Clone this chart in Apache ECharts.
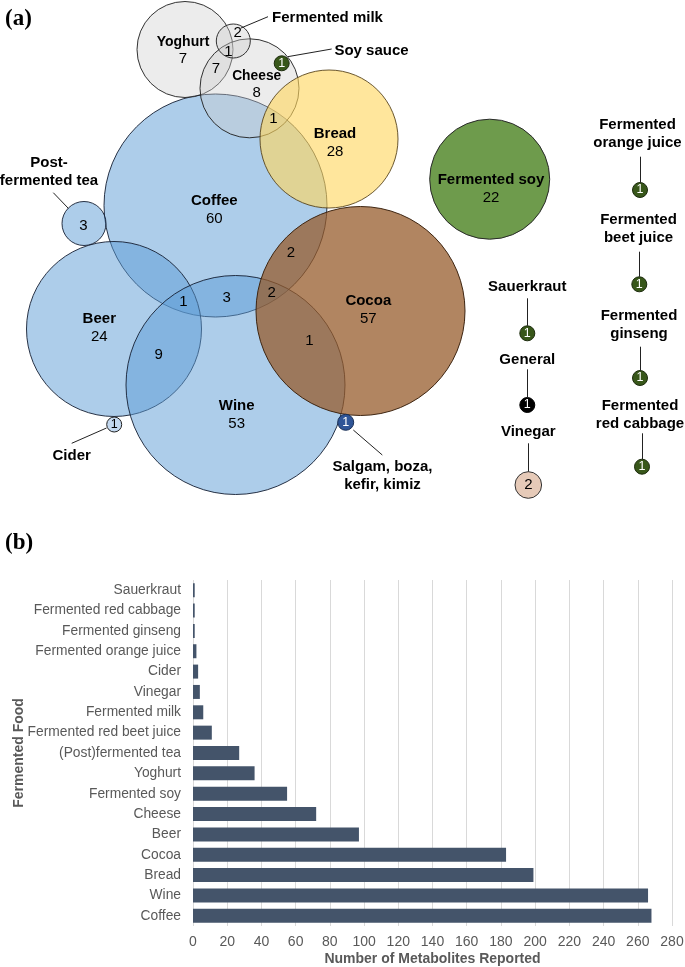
<!DOCTYPE html>
<html>
<head>
<meta charset="utf-8">
<script src="https://cdn.jsdelivr.net/npm/echarts@6/dist/echarts.min.js"></script>
<style>
html,body{margin:0;padding:0;background:#fff;}
#c{width:685px;height:967px;}
</style>
</head>
<body>
<div id="c"></div>
<script>
// ================= DATA =================
// Panel (b): metabolites reported per fermented food
const foods = ['Sauerkraut','Fermented red cabbage','Fermented ginseng','Fermented orange juice','Cider','Vinegar','Fermented milk','Fermented red beet juice','(Post)fermented tea','Yoghurt','Fermented soy','Cheese','Beer','Cocoa','Bread','Wine','Coffee'];
const metaboliteCounts = [1,1,1,2,3,4,6,11,27,36,55,72,97,183,199,266,268];
const xTickMax = 280;
const xTickStep = 20;

// Panel (a): Euler diagram sets and their unique counts
const vennSets = ['Coffee','Beer','Wine','Post-\nfermented tea','Cider','Yoghurt','Cheese','Fermented milk','Bread','Cocoa','Fermented soy','Soy sauce','Salgam, boza,\nkefir, kimiz','Sauerkraut','General','Vinegar','Fermented\norange juice','Fermented\nbeet juice','Fermented\nginseng','Fermented\nred cabbage'];
const vennOnly = [60,24,53,3,1,7,8,2,28,57,22,1,1,1,1,2,1,1,1,1];
const overlapSets = ['Yoghurt & Cheese','Yoghurt & Fermented milk & Cheese','Cheese & Coffee & Bread','Coffee & Cocoa','Coffee & Wine & Cocoa','Coffee & Wine','Coffee & Beer & Wine','Beer & Wine','Wine & Cocoa'];
const overlapCounts = [7,1,1,2,2,3,1,9,1];

// ================= LAYOUT / STYLE (not data) =================
// circle centre x, centre y, radius (diagram pixel units)
const circleLayout = [
  [215.5,205.5,111.5],[114,329,87.5],[235.5,385,109.5],[84,223.5,22],[114.2,424.5,7.5],
  [185,49.5,48],[249.5,88.3,49.5],[233.3,41,17],[329,139,69],[360.5,311,104.5],
  [489.7,179.2,60],[281.7,63.3,7.5],[345.7,422.3,8],[527.3,333.3,7.5],[527.3,405,7.5],
  [528.3,485,13.3],[640,190,7.5],[639.3,284.3,7.5],[640,378,7.5],[642,466.7,7.5]
];
const circleStyle = ['blue','blue','blue','blue','cider','gray','gray','gray','bread','cocoa','soy','dkgreen','salgam','dkgreen','black','vinegar','dkgreen','dkgreen','dkgreen','dkgreen'];
// label layout: inside -> [x,y,fontSize]; callout -> name pos, count pos, leader line
const labelLayout = [
  {inside:[214.3,210,15]},
  {inside:[99.3,328,15]},
  {inside:[236.7,415,15]},
  {name:[49,172], count:[83.3,225.7,15], line:[[53.3,192.7],[68.3,208.3]]},
  {name:[71.7,456], count:[114.2,424.5,12.5], line:[[71.7,443.3],[106.5,428]]},
  {inside:[183,50.3,14]},
  {inside:[256.7,84.5,13.8]},
  {name:[327.5,18.3], count:[237.7,32.7,15], line:[[241,28],[268,16.7]]},
  {inside:[335,142.5,15]},
  {inside:[368.3,310,15]},
  {inside:[491,189,15]},
  {name:[371.5,50.7], count:null, line:[[287.7,56.7],[331.7,49]]},
  {name:[382.5,476], count:null, line:[[353.3,430],[382.3,455]]},
  {name:[527.3,286.7], count:null, line:[[527.3,298.3],[527.3,325.8]]},
  {name:[527.3,360], count:null, line:[[527.3,369.3],[527.3,397.5]]},
  {name:[528.3,432.3], count:[528.3,485,15], line:[[528.3,443.3],[528.3,471.7]]},
  {name:[637.5,134], count:null, line:[[640,156.7],[640,182.5]]},
  {name:[638.5,229], count:null, line:[[639.3,251.7],[639.3,276.8]]},
  {name:[639,325], count:null, line:[[640,346.7],[640,370.5]]},
  {name:[640,414.5], count:null, line:[[642,433.3],[642,459.2]]}
];
const overlapLayout = [[216,69],[228.3,51.7],[273.3,119],[291,252.7],[271.7,292.7],[226.7,298.3],[183.3,301.7],[158.7,355],[309.3,341]];

const palette = {
  blue:   {fill:'rgba(91,155,213,0.5)',  stroke:'rgba(20,30,50,0.9)', text:'#000'},
  cider:  {fill:'#c3d8ef',               stroke:'#222',               text:'#000'},
  gray:   {fill:'rgba(205,205,205,0.38)',stroke:'rgba(30,30,30,0.9)', text:'#000'},
  bread:  {fill:'rgba(255,214,95,0.62)', stroke:'rgba(80,60,20,0.85)',text:'#000'},
  cocoa:  {fill:'rgba(150,90,42,0.74)',  stroke:'#3d2410',            text:'#000'},
  soy:    {fill:'#6e9b4c',               stroke:'#2a2a2a',            text:'#000'},
  dkgreen:{fill:'#38571a',               stroke:'#1c2b0d',            text:'#fff'},
  salgam: {fill:'#2f5597',               stroke:'#1a2f55',            text:'#fff'},
  black:  {fill:'#000000',               stroke:'#000',               text:'#fff'},
  vinegar:{fill:'#e6cab8',               stroke:'#333',               text:'#000'}
};
const FONT = 'Liberation Sans, Arial, sans-serif';
const INK = '#000';

// ================= BUILD =================
const circleData = vennSets.map((n, i) => {
  const c = circleLayout[i], p = palette[circleStyle[i]];
  return {name: n, value: [c[0], c[1]], symbolSize: c[2] * 2,
    itemStyle: {color: p.fill, borderColor: p.stroke, borderWidth: 1, opacity: 1}};
});

const textData = [];
const lineData = [];
vennSets.forEach((n, i) => {
  const L = labelLayout[i], p = palette[circleStyle[i]], c = circleLayout[i];
  if (L.inside) {
    const fs = L.inside[2];
    textData.push({value: [L.inside[0], L.inside[1]], label: {
      formatter: '{n|' + n + '}\n{c|' + vennOnly[i] + '}',
      rich: {n: {fontWeight: 'bold', fontSize: fs, color: INK, fontFamily: FONT, lineHeight: fs + 3},
             c: {fontSize: 15, color: INK, fontFamily: FONT, lineHeight: fs + 3}}
    }});
  } else {
    textData.push({value: L.name, label: {formatter: n, fontWeight: 'bold', fontSize: 15, color: INK, lineHeight: 18, fontFamily: FONT}});
    const cp = L.count ? L.count : [c[0], c[1], 12.5];
    textData.push({value: [cp[0], cp[1]], label: {formatter: String(vennOnly[i]), fontSize: cp[2], color: p.text, fontFamily: FONT}});
    lineData.push({coords: L.line});
  }
});
overlapCounts.forEach((v, i) => {
  textData.push({name: overlapSets[i], value: overlapLayout[i], label: {formatter: String(v), fontSize: 15, color: INK, fontFamily: FONT}});
});

const chart = echarts.init(document.getElementById('c'), null, {renderer: 'canvas'});
chart.setOption({
  animation: false,
  backgroundColor: '#fff',
  graphic: [
    {type: 'text', left: 5, top: 8, style: {text: '(a)', font: 'bold 23px "Liberation Serif", "Times New Roman", serif', fill: '#000'}},
    {type: 'text', left: 5, top: 532, style: {text: '(b)', font: 'bold 23px "Liberation Serif", "Times New Roman", serif', fill: '#000'}}
  ],
  grid: [
    {left: 0, top: 0, width: 685, height: 520, outerBoundsMode: 'none', containLabel: false},
    {left: 193, top: 580, width: 479, height: 346, outerBoundsMode: 'none', containLabel: false}
  ],
  xAxis: [
    {gridIndex: 0, type: 'value', min: 0, max: 685, show: false},
    {gridIndex: 1, type: 'value', min: 0, max: xTickMax, interval: xTickStep,
     axisLine: {show: false}, axisTick: {show: false},
     splitLine: {show: true, lineStyle: {color: '#d9d9d9', width: 1}},
     axisLabel: {color: '#595959', fontSize: 14, margin: 9, fontFamily: FONT},
     name: 'Number of Metabolites Reported', nameLocation: 'middle', nameGap: 26, nameMoveOverlap: false,
     nameTextStyle: {color: '#595959', fontWeight: 'bold', fontSize: 14, fontFamily: FONT}}
  ],
  yAxis: [
    {gridIndex: 0, type: 'value', min: 0, max: 520, inverse: true, show: false},
    {gridIndex: 1, type: 'category', data: foods, inverse: true,
     axisLine: {show: false}, axisTick: {show: false}, splitLine: {show: false},
     axisLabel: {color: '#595959', fontSize: 13.8, margin: 12, fontFamily: FONT},
     name: 'Fermented Food', nameLocation: 'middle', nameGap: 167, nameMoveOverlap: false,
     nameTextStyle: {color: '#595959', fontWeight: 'bold', fontSize: 14, fontFamily: FONT}}
  ],
  series: [
    {type: 'scatter', name: 'sets', xAxisIndex: 0, yAxisIndex: 0, silent: true, symbol: 'circle',
     itemStyle: {opacity: 1}, data: circleData, z: 2},
    {type: 'lines', coordinateSystem: 'cartesian2d', xAxisIndex: 0, yAxisIndex: 0, silent: true,
     lineStyle: {color: '#222', width: 1, opacity: 1, curveness: 0}, data: lineData, z: 3},
    {type: 'scatter', name: 'labels', xAxisIndex: 0, yAxisIndex: 0, silent: true, symbolSize: 0,
     itemStyle: {color: 'rgba(0,0,0,0)', opacity: 1},
     label: {show: true, position: 'inside', align: 'center', verticalAlign: 'middle'},
     data: textData, z: 4},
    {type: 'bar', name: 'Metabolites', xAxisIndex: 1, yAxisIndex: 1, data: metaboliteCounts,
     barWidth: 14, itemStyle: {color: '#44546a'}, silent: true}
  ]
});
</script>
</body>
</html>
